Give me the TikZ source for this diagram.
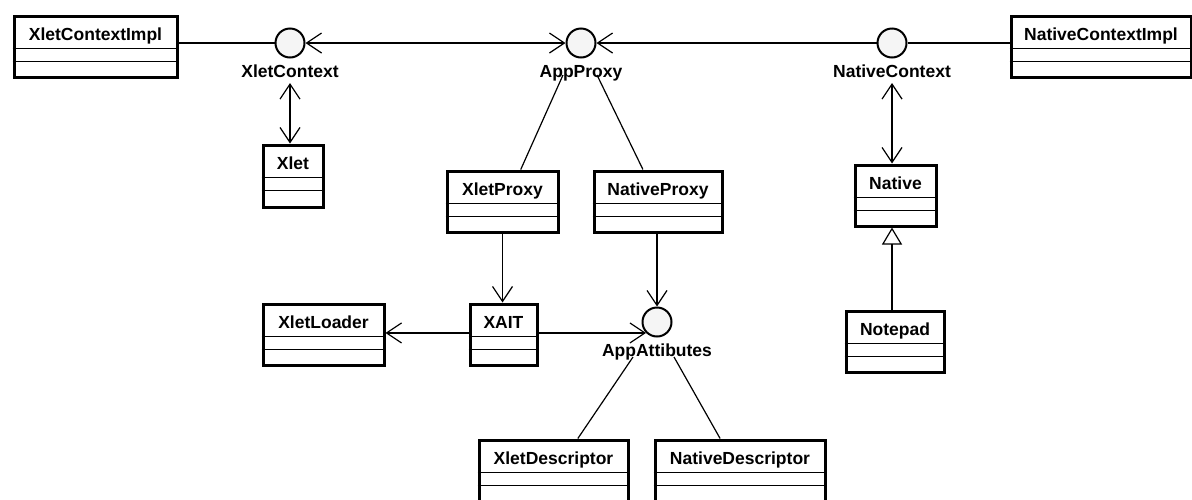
\documentclass[tikz,border=0pt]{standalone}
\usepackage{fontspec}
\setmainfont{Liberation Sans}
\usetikzlibrary{arrows.meta,calc}

% UML class box: name, x1, y1, x2, y2, title (y grows downwards)
\newcommand\umlclass[6]{%
  \node[clsbox, minimum width={(#4-#2-3)*1pt}, minimum height={(#5-#3-3)*1pt},
        anchor=north west] (#1) at (#2+1.5,#3+1.5) {};
  \node[clsname] at ($(#1.north)+(0,25.5)$) {#6};
  \draw[divider] ($(#1.north west)+(0,33.5)$) -- ($(#1.north east)+(0,33.5)$);
  \draw[divider] ($(#1.north west)+(0,46.5)$) -- ($(#1.north east)+(0,46.5)$);
}

\tikzset{
  clsbox/.style={draw, line width=3pt, fill=white, inner sep=0pt, rectangle},
  clsname/.style={anchor=base, inner sep=0pt, font=\fontsize{17.5}{20}\selectfont\bfseries},
  divider/.style={line width=1pt},
  iface/.style={circle, draw, line width=2pt, fill=gray!8, minimum size=29pt, inner sep=0pt},
  ilabel/.style={anchor=base, inner sep=0pt, font=\fontsize{17.5}{20}\selectfont\bfseries},
  conn/.style={line width=1.2pt},
  nav/.style={conn, -{Straight Barb[length=15pt,width=20pt,line width=1.2pt]}},
  bnav/.style={conn, {Straight Barb[length=15pt,width=20pt,line width=1.2pt]}-{Straight Barb[length=15pt,width=20pt,line width=1.2pt]}},
  gen/.style={conn, -{Triangle[open,length=17pt,width=20pt,line width=1.2pt,fill=white]}},
}

\begin{document}
\begin{tikzpicture}[x=1pt,y=-1pt]
\useasboundingbox (0,0) rectangle (1192,499);
\clip (0,0) rectangle (1192,499);

% classes
\umlclass{xci}{11}{13}{177}{77}{XletContextImpl}
\umlclass{nci}{1008}{13}{1191}{77}{NativeContextImpl}
\umlclass{xlet}{260}{142}{323}{207}{Xlet}
\umlclass{xp}{444}{168}{558}{232}{XletProxy}
\umlclass{np}{591}{168}{722}{232}{NativeProxy}
\umlclass{nat}{852}{162}{936}{226}{Native}
\umlclass{xl}{260}{301}{384}{365}{XletLoader}
\umlclass{xait}{467}{301}{537}{365}{XAIT}
\umlclass{note}{843}{308}{944}{372}{Notepad}
\umlclass{xd}{476}{437}{628}{501}{XletDescriptor}
\umlclass{nd}{652}{437}{825}{501}{NativeDescriptor}

% interfaces
\node[iface] (xc) at (290,43) {};
\node[iface] (ap) at (581,43) {};
\node[iface] (nc) at (892,43) {};
\node[iface] (aa) at (657,322) {};
\node[ilabel] (xcl) at (290,77) {XletContext};
\node[ilabel] (apl) at (581,77) {AppProxy};
\node[ilabel] (ncl) at (892,77) {NativeContext};
\node[ilabel] (aal) at (657,356) {AppAttibutes};

% realizations and navigations along the top
\draw[conn] (xci.east |- xc.west) -- (xc.west);
\draw[bnav] (xc.east) -- (ap.west);
\draw[nav] (nc.west) -- (ap.east);
\draw[conn] (nc.east) -- (nc.east -| nci.west);

\draw[bnav] ($(xc)+(0,40)$) -- (xlet.north -| xc);
\draw[bnav] ($(nc)+(0,40)$) -- (nat.north -| nc);

% AppProxy implementations
\draw[conn] ($(ap)+(-18,32)$) -- ($(xp.north west)!0.66!(xp.north east)$);
\draw[conn] ($(ap)+(16,32)$) -- ($(np.north west)!0.385!(np.north east)$);

% XAIT and AppAttibutes
\draw[nav] (xp.south) -- (xp.south |- xait.north);
\draw[nav] (np.south -| aa) -- (aa.north);
\coordinate (hit) at (aa.225);
\draw[nav] (xait.east |- hit) -- (hit);
\draw[nav] (xait.west |- hit) -- (xl.east |- hit);

\draw[conn] ($(aa)+(-24,35)$) -- ($(xd.north west)!0.66!(xd.north east)$);
\draw[conn] ($(aa)+(17,35)$) -- ($(nd.north west)!0.385!(nd.north east)$);

% generalization
\draw[gen] (note.north -| nc) -- (nat.south -| nc);
\end{tikzpicture}
\end{document}
